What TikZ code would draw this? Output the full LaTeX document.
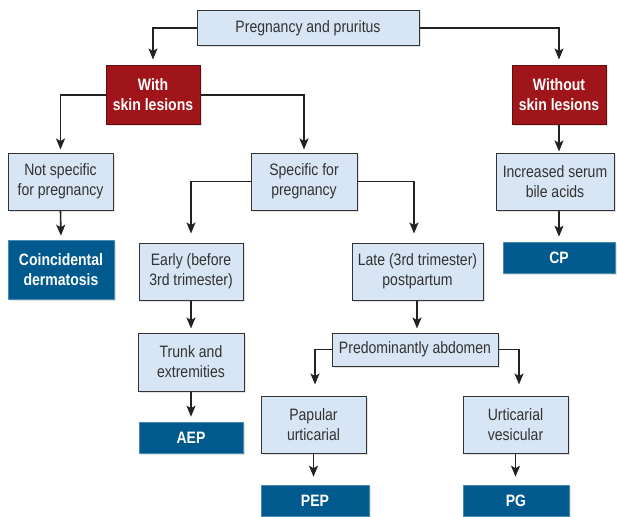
\documentclass[tikz,border=0pt]{standalone}
\usepackage{fontspec}
\setmainfont{Liberation Sans}[FakeStretch=0.85]
\usetikzlibrary{arrows.meta,shadows}
\definecolor{lightbox}{HTML}{D7E5F4}
\definecolor{darkbox}{HTML}{005A8E}
\definecolor{redbox}{HTML}{A01519}
\definecolor{linec}{HTML}{222222}
\definecolor{txtc}{HTML}{333333}
\tikzset{
  base/.style={rectangle, inner sep=0pt, align=center, font=\fontsize{16.5}{20}\selectfont,
    drop shadow={opacity=0.22, shadow xshift=1.6pt, shadow yshift=-1.6pt}},
  lbox/.style={base, fill=lightbox, draw=txtc, line width=1pt, text=txtc},
  dbox/.style={base, fill=darkbox, draw=darkbox!70!white, line width=0.6pt, text=white, font=\fontsize{16.5}{20}\selectfont\bfseries},
  rbox/.style={base, fill=redbox, draw=redbox!60!black, line width=1pt, text=white, font=\fontsize{16.5}{20}\selectfont\bfseries},
  conn/.style={draw=linec, line width=1.6pt, -{Stealth[length=11pt,width=9pt,inset=2.5pt]}},
}
\begin{document}
\begin{tikzpicture}[x=1pt,y=-1pt]
\useasboundingbox (0,0) rectangle (617,516);
\node[lbox, minimum width=222pt, minimum height=35pt] (top) at (308,28) {Pregnancy and pruritus};
\node[rbox, minimum width=94pt, minimum height=58pt] (with) at (153,95) {With\\skin lesions};
\node[rbox, minimum width=94pt, minimum height=58pt] (without) at (559,95) {Without\\skin lesions};
\node[lbox, minimum width=105pt, minimum height=57pt] (notspec) at (60.5,181.5) {Not specific\\for pregnancy};
\node[lbox, minimum width=106pt, minimum height=57pt] (spec) at (304,181.5) {Specific for\\pregnancy};
\node[lbox, minimum width=118pt, minimum height=57pt] (incr) at (555,181.5) {Increased serum\\bile acids};
\node[dbox, minimum width=106pt, minimum height=59pt] (coinc) at (61,269.5) {Coincidental\\dermatosis};
\node[dbox, minimum width=112pt, minimum height=31pt] (cp) at (559,257.5) {CP};
\node[lbox, minimum width=104pt, minimum height=57pt] (early) at (191,271.5) {Early (before\\3rd trimester)};
\node[lbox, minimum width=131pt, minimum height=57pt] (late) at (417.5,271.5) {Late (3rd trimester)\\postpartum};
\node[lbox, minimum width=106pt, minimum height=58pt] (trunk) at (191,362) {Trunk and\\extremities};
\node[dbox, minimum width=104pt, minimum height=31pt] (aep) at (191,437.5) {AEP};
\node[lbox, minimum width=166pt, minimum height=33pt] (predom) at (415,349.5) {Predominantly abdomen};
\node[lbox, minimum width=105pt, minimum height=57pt] (papular) at (313.5,424.5) {Papular\\urticarial};
\node[lbox, minimum width=105pt, minimum height=57pt] (urtic) at (515.5,424.5) {Urticarial\\vesicular};
\node[dbox, minimum width=108pt, minimum height=31pt] (pep) at (315,500.5) {PEP};
\node[dbox, minimum width=106pt, minimum height=31pt] (pg) at (516,500.5) {PG};

\draw[conn, shorten >=6pt] (top.west) -| (with.north);
\draw[conn, shorten >=6pt] (top.east) -| (without.north);
\draw[conn, shorten >=3pt] (with.west) -| (notspec.north);
\draw[conn, shorten >=3pt] (with.east) -| (spec.north);
\draw[conn, shorten >=1pt] (without.south) -- (incr.north -| without.south);
\draw[conn, shorten >=4pt] (notspec.south) -- (coinc.north);
\draw[conn, shorten >=9pt] (spec.west) -| (early.north);
\draw[conn, shorten >=9pt] (spec.east) -| ([xshift=-3.5pt]late.north);
\draw[conn, shorten >=5pt] (incr.south -| cp.north) -- (cp.north);
\draw[conn, shorten >=4pt] (early.south) -- (trunk.north);
\draw[conn, shorten >=5pt] (trunk.south) -- (aep.north);
\draw[conn, shorten >=4pt] ([xshift=-0.5pt]late.south) -- ([xshift=-0.5pt]late.south |- predom.north);
\draw[conn, shorten >=11pt] (predom.west) -| ([xshift=1.5pt]papular.north);
\draw[conn, shorten >=11pt] (predom.east) -| ([xshift=3.5pt]urtic.north);
\draw[conn, shorten >=8pt] (papular.south) -- (papular.south |- pep.north);
\draw[conn, shorten >=8pt] (urtic.south) -- (urtic.south |- pg.north);
\end{tikzpicture}
\end{document}
